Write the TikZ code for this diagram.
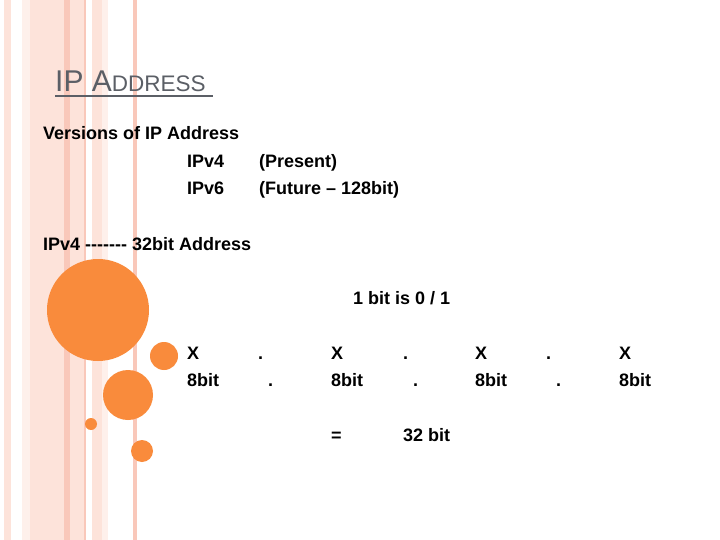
\documentclass[tikz,border=0pt]{standalone}
\usepackage{fontspec}
\setmainfont{Liberation Sans}[Ligatures=NoCommon]
\begin{document}
\begin{tikzpicture}[x=1pt,y=-1pt,
  t/.style={anchor=base west,inner sep=0pt,font=\fontsize{18}{20}\selectfont\bfseries}]
\useasboundingbox (0,0) rectangle (720,540);
\fill[white] (0,0) rectangle (720,540);
\definecolor{s1}{HTML}{FDE3DA}\definecolor{s2}{HTML}{F9C8BA}\definecolor{s3}{HTML}{FEF0EB}
\definecolor{dotc}{HTML}{F98B3C}\definecolor{tg}{HTML}{5B5F66}
\fill[s1] (4,0) rectangle (11,540);
\fill[s3] (22,0) rectangle (30,540);
\fill[s1] (30,0) rectangle (65,540);
\fill[s2] (64,0) rectangle (70,540);
\fill[s1] (70,0) rectangle (84,540);
\fill[s2] (84,0) rectangle (86,540);
\fill[s1] (92,0) rectangle (102,540);
\fill[s3] (102,0) rectangle (108,540);
\fill[s2] (133,0) rectangle (137,540);
\node[anchor=base west,inner sep=0pt,text=tg] (title) at (55,92) {\fontsize{30}{32}\selectfont IP A\fontsize{22.5}{24}\selectfont DDRESS};
\draw[tg,line width=1.3pt] (55,96) -- (213,96);
\node[t] (v) at (43,140) {Versions of IP Address};
\node[t] (a) at (187,168) {IPv4};
\node[t] (b) at (259,168) {(Present)};
\node[t] (c) at (187,195) {IPv6};
\node[t] (d) at (259,195) {(Future -- 128bit)};
\node[t] (e) at (43,251) {IPv4 {-}{-}{-}{-}{-}{-}{-} 32bit Address};
\node[t] (f) at (353,304) {1 bit is 0 / 1};
\foreach \x/\n in {187/1,331/2,475/3,619/4}{
  \node[t] (x\n) at (\x,359) {X};
  \node[t] (b\n) at (\x,386) {8bit};}
\foreach \x/\n in {258/1,403/2,546/3}{
  \node[t] (p\n) at (\x,359) {.};
  \node[t] (q\n) at (\x+10,386) {.};}
\node[t] (eq) at (331,441) {=};
\node[t] (tb) at (403,441) {32 bit};
\fill[dotc] (98,310) circle (51);
\fill[dotc] (164,356) circle (14);
\fill[dotc] (128,395) circle (25);
\fill[dotc] (91,424) circle (6);
\fill[dotc] (142,451) circle (11);
\end{tikzpicture}
\end{document}
